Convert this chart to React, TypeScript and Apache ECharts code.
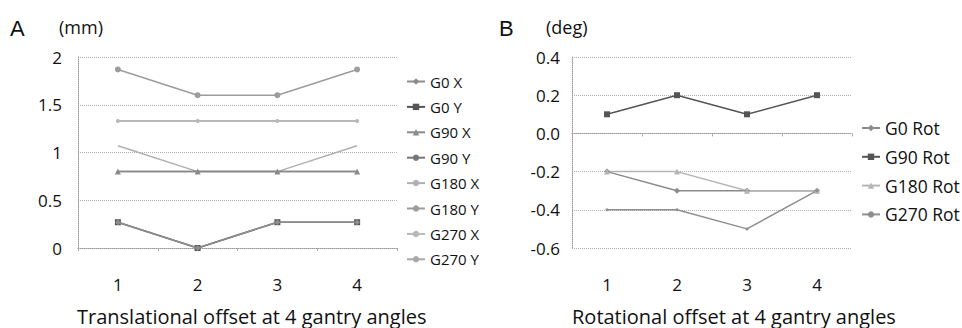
import React, { useEffect, useRef } from "react";
import * as echarts from "echarts";

const categories = ["1", "2", "3", "4"];

const transNames = ["G0 X", "G0 Y", "G90 X", "G90 Y", "G180 X", "G180 Y", "G270 X", "G270 Y"];
const g0x = [0.27, 0, 0.27, 0.27];
const g0y = [0.27, 0, 0.27, 0.27];
const g90x = [0.8, 0.8, 0.8, 0.8];
const g90y = [0.8, 0.8, 0.8, 0.8];
const g180x = [1.07, 0.8, 0.8, 1.07];
const g180y = [1.87, 1.6, 1.6, 1.87];
const g270x = [1.33, 1.33, 1.33, 1.33];
const g270y = [1.33, 1.33, 1.33, 1.33];
const transValues = [g0x, g0y, g90x, g90y, g180x, g180y, g270x, g270y];

const rotNames = ["G0 Rot", "G90 Rot", "G180 Rot", "G270 Rot"];
const g0rot = [-0.2, -0.3, -0.3, -0.3];
const g90rot = [0.1, 0.2, 0.1, 0.2];
const g180rot = [-0.2, -0.2, -0.3, -0.3];
const g270rot = [-0.4, -0.4, -0.5, -0.3];
const rotValues = [g0rot, g90rot, g180rot, g270rot];

const transColors = ["#8c8c8c", "#555555", "#8a8a8a", "#777777", "#b0b0b0", "#9c9c9c", "#b8b8b8", "#a8a8a8"];
const transSymbols = ["diamond", "rect", "triangle", "none", "none", "circle", "circle", "none"];
const transSymbolSizes = [6, 6, 6, 6, 6, 6, 4, 6];
const rotColors = ["#8a8a8a", "#555555", "#b5b5b5", "#8f8f8f"];
const rotSymbols = ["diamond", "rect", "triangle", "circle"];
const rotSymbolSizes = [6, 6, 6, 3];

const FONT = "Open Sans";

export default function App() {
  const ref = useRef<HTMLDivElement>(null);
  useEffect(() => {
    if (!ref.current) return;
    const chart = echarts.init(ref.current, null, { renderer: "svg" });
    const gridLine = { show: true, lineStyle: { type: "dotted", color: "#b0b0b0", width: 1 } };
    const option: any = {
      animation: false,
      backgroundColor: "#ffffff",
      grid: [
        { left: 78, right: 565, top: 57, bottom: 80 },
        { left: 572, right: 110, top: 57, bottom: 80 },
      ],
      legend: [
        {
          data: transNames,
          orient: "vertical",
          left: 401,
          top: 69,
          itemGap: 10.4,
          itemWidth: 18,
          itemHeight: 8,
          textStyle: { fontFamily: FONT, fontSize: 15, color: "#111" },
        },
        {
          data: rotNames,
          orient: "vertical",
          left: 856,
          top: 114,
          itemGap: 10.8,
          itemWidth: 18,
          itemHeight: 8,
          textStyle: { fontFamily: FONT, fontSize: 17.5, color: "#111" },
        },
      ],
      xAxis: [
        {
          type: "category",
          gridIndex: 0,
          data: categories,
          boundaryGap: true,
          axisLine: { onZero: false, lineStyle: { type: "dotted", color: "#999" } },
          axisTick: { show: true, length: 3, lineStyle: { color: "#aaa" } },
          axisLabel: { margin: 28, fontFamily: FONT, fontSize: 17, color: "#111" },
        },
        {
          type: "category",
          gridIndex: 1,
          data: categories,
          boundaryGap: true,
          axisLine: { onZero: true, lineStyle: { type: "dotted", color: "#999" } },
          axisTick: { show: true, length: 3, lineStyle: { color: "#aaa" } },
          axisLabel: { show: false },
        },
        {
          type: "category",
          gridIndex: 1,
          data: categories,
          boundaryGap: true,
          position: "bottom",
          axisLine: { show: false, onZero: false },
          axisTick: { show: false },
          axisLabel: { margin: 28, fontFamily: FONT, fontSize: 17, color: "#111" },
        },
      ],
      yAxis: [
        {
          type: "value",
          gridIndex: 0,
          min: 0,
          max: 2,
          interval: 0.5,
          axisLine: { show: true, lineStyle: { type: "dotted", color: "#999" } },
          axisTick: { show: false },
          splitLine: gridLine,
          axisLabel: { margin: 16, fontFamily: FONT, fontSize: 17, color: "#111" },
        },
        {
          type: "value",
          gridIndex: 1,
          min: -0.6,
          max: 0.4,
          interval: 0.2,
          axisLine: { show: true, lineStyle: { type: "dotted", color: "#999" } },
          axisTick: { show: false },
          splitLine: gridLine,
          axisLabel: {
            margin: 12,
            fontFamily: FONT,
            fontSize: 17,
            color: "#111",
            formatter: (v: number) => (Math.abs(v) < 1e-9 ? "0.0" : v.toFixed(1)),
          },
        },
      ],
      series: [
        ...transNames.map((name, i) => ({
          name,
          type: "line",
          xAxisIndex: 0,
          yAxisIndex: 0,
          data: transValues[i],
          symbol: transSymbols[i],
          symbolSize: transSymbolSizes[i],
          showSymbol: true,
          color: transColors[i],
          lineStyle: { width: 1.5, color: transColors[i] },
          itemStyle: { color: transColors[i] },
          z: 10 - i,
        })),
        ...rotNames.map((name, i) => ({
          name,
          type: "line",
          xAxisIndex: 1,
          yAxisIndex: 1,
          data: rotValues[i],
          symbol: rotSymbols[i],
          symbolSize: rotSymbolSizes[i],
          color: rotColors[i],
          lineStyle: { width: 1.5, color: rotColors[i] },
          itemStyle: { color: rotColors[i] },
        })),
      ],
      graphic: [
        { type: "text", left: 10, top: 17, style: { text: "A", font: "22px 'Liberation Sans'", fill: "#111" } },
        { type: "text", left: 59, top: 18, style: { text: "(mm)", font: "18px 'Open Sans'", fill: "#111" } },
        { type: "text", left: 499, top: 17, style: { text: "B", font: "22px 'Liberation Sans'", fill: "#111" } },
        { type: "text", left: 546, top: 18, style: { text: "(deg)", font: "18px 'Open Sans'", fill: "#111" } },
        {
          type: "text",
          left: 77,
          top: 305,
          style: {
            text: "Translational offset at 4 gantry angles",
            font: "20px 'Open Sans'",
            lineHeight: 22,
            fill: "#111",
          },
        },
        {
          type: "text",
          left: 572,
          top: 305,
          style: {
            text: "Rotational offset at 4 gantry angles",
            font: "20px 'Open Sans'",
            lineHeight: 22,
            fill: "#111",
          },
        },
      ],
    };
    chart.setOption(option);
    return () => chart.dispose();
  }, []);
  return <div ref={ref} style={{ position: "fixed", left: 0, top: 0, width: 962, height: 328 }} />;
}
